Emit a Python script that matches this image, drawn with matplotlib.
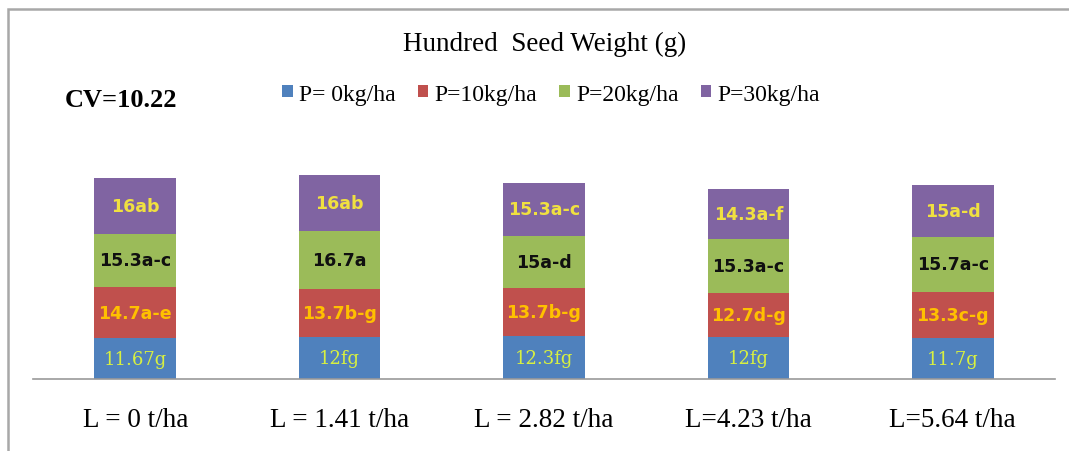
import matplotlib
matplotlib.use("Agg")
import matplotlib.pyplot as plt
from matplotlib.patches import Rectangle
import numpy as np

# data
lime_levels = ['L = 0 t/ha', 'L = 1.41 t/ha', 'L = 2.82 t/ha', 'L=4.23 t/ha', 'L=5.64 t/ha']
series_names = ['P= 0kg/ha', 'P=10kg/ha', 'P=20kg/ha', 'P=30kg/ha']
p0 = [11.67, 12, 12.3, 12, 11.7]
p10 = [14.7, 13.7, 13.7, 12.7, 13.3]
p20 = [15.3, 16.7, 15, 15.3, 15.7]
p30 = [16, 16, 15.3, 14.3, 15]
p0_lab = ['11.67g', '12fg', '12.3fg', '12fg', '11.7g']
p10_lab = ['14.7a-e', '13.7b-g', '13.7b-g', '12.7d-g', '13.3c-g']
p20_lab = ['15.3a-c', '16.7a', '15a-d', '15.3a-c', '15.7a-c']
p30_lab = ['16ab', '16ab', '15.3a-c', '14.3a-f', '15a-d']

colors = ['#4F81BD', '#C0504D', '#9BBB59', '#8064A2']
text_colors = ['#D8F040', '#FFC000', '#101010', '#F0E040']

fig = plt.figure(figsize=(10.69, 4.52), dpi=100)
ax = fig.add_axes([33/1069, 1-380/452, (1055-33)/1069, (380-40)/452])

x = np.arange(len(lime_levels))
bottom = np.zeros(len(x))
for vals, labs, col, tcol, name in zip([p0, p10, p20, p30], [p0_lab, p10_lab, p20_lab, p30_lab],
                                         colors, text_colors, series_names):
    ax.bar(x, vals, 0.4, bottom=bottom, color=col, label=name)
    for xi, b, v, lab in zip(x, bottom, vals, labs):
        if col == colors[0]:
            ax.text(xi, b + v/2, lab, ha='center', va='center', color=tcol,
                    fontsize=13, family='DejaVu Serif')
        else:
            ax.text(xi, b + v/2, lab, ha='center', va='center', color=tcol,
                    fontsize=12.5, fontweight='bold', family='DejaVu Sans')
    bottom += np.array(vals)

ax.set_xlim(-0.5, 4.5)
ax.set_ylim(0, 340/3.49)
ax.set_yticks([])
ax.set_xticks(x)
ax.set_xticklabels(lime_levels, family='Liberation Serif', fontsize=19.5)
ax.tick_params(axis='x', length=0, pad=20)
for s in ['top', 'left', 'right']:
    ax.spines[s].set_visible(False)
ax.spines['bottom'].set_color('#999999')
ax.spines['bottom'].set_linewidth(1.2)

fig.text(545/1069, 1-44/452, 'Hundred  Seed Weight (g)', ha='center', va='center',
         family='Liberation Serif', fontsize=19.5)
fig.text(65/1069, 1-101/452, 'CV=10.22', ha='left', va='center',
         family='Liberation Serif', fontsize=19, fontweight='bold')

leg = fig.legend(loc='center', bbox_to_anchor=(551/1069, 1-95/452), ncol=4, frameon=False,
                 prop={'family': 'Liberation Serif', 'size': 17}, handlelength=0.45,
                 handleheight=0.45, handletextpad=0.25, columnspacing=0.95)

fig.patches.append(Rectangle((8/1069, -0.2), 1.2, 1.2 - 10/452, transform=fig.transFigure,
                             fill=False, edgecolor='#A8A8A8', linewidth=1.8))

fig.savefig('out.png', dpi=100)
